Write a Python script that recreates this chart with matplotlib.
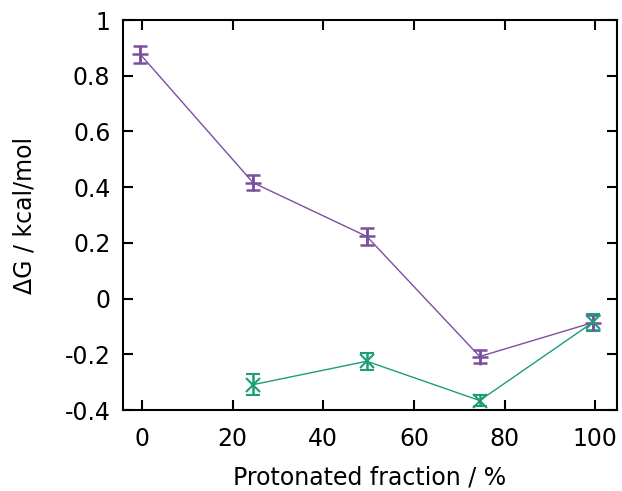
import matplotlib
matplotlib.use("Agg")
import matplotlib.pyplot as plt

# Data
x_purple = [-0.4, 24.5, 49.6, 74.5, 99.5]
y_purple = [0.877, 0.416, 0.223, -0.208, -0.086]
e_purple = [0.031, 0.028, 0.032, 0.024, 0.028]

x_green = [24.5, 49.6, 74.5, 99.5]
y_green = [-0.309, -0.225, -0.366, -0.085]
e_green = [0.038, 0.030, 0.020, 0.030]

xticks = [0, 20, 40, 60, 80, 100]
yticks = [-0.4, -0.2, 0, 0.2, 0.4, 0.6, 0.8, 1]
ytick_labels = ["-0.4", "-0.2", "0", "0.2", "0.4", "0.6", "0.8", "1"]

purple = "#7b4fa0"
green = "#1b9e77"

plt.rcParams['font.family'] = ['DejaVu Sans']
fig = plt.figure(figsize=(6.22, 4.91), dpi=100)
ax = fig.add_axes([123/622, (491-410)/491, (617-123)/622, (410-20)/491])

ax.plot(x_purple, y_purple, color=purple, lw=1.0, zorder=2)
ax.errorbar(x_purple, y_purple, yerr=e_purple, fmt='+', color=purple,
            ms=12, mew=1.8, elinewidth=1.8, capsize=5, capthick=1.8, zorder=3)
ax.plot(x_green, y_green, color=green, lw=1.0, zorder=2)
ax.errorbar(x_green, y_green, yerr=e_green, fmt='x', color=green,
            ms=10, mew=1.5, elinewidth=1.8, capsize=5, capthick=1.8, zorder=3)

ax.set_xlim(-4.2, 104.8)
ax.set_ylim(-0.4, 1.0)
ax.set_xticks(xticks)
ax.set_yticks(yticks)
ax.set_yticklabels(ytick_labels)
ax.tick_params(direction='in', length=7, width=1.5, top=True, right=True,
               labelsize=17)
ax.tick_params(axis='x', pad=12)
ax.tick_params(axis='y', pad=9)
for s in ax.spines.values():
    s.set_linewidth(1.5)
ax.set_xlabel("Protonated fraction / %", fontsize=17, labelpad=11)
ax.set_ylabel("ΔG / kcal/mol", fontsize=17, labelpad=20)

fig.savefig("out.png", dpi=100)
